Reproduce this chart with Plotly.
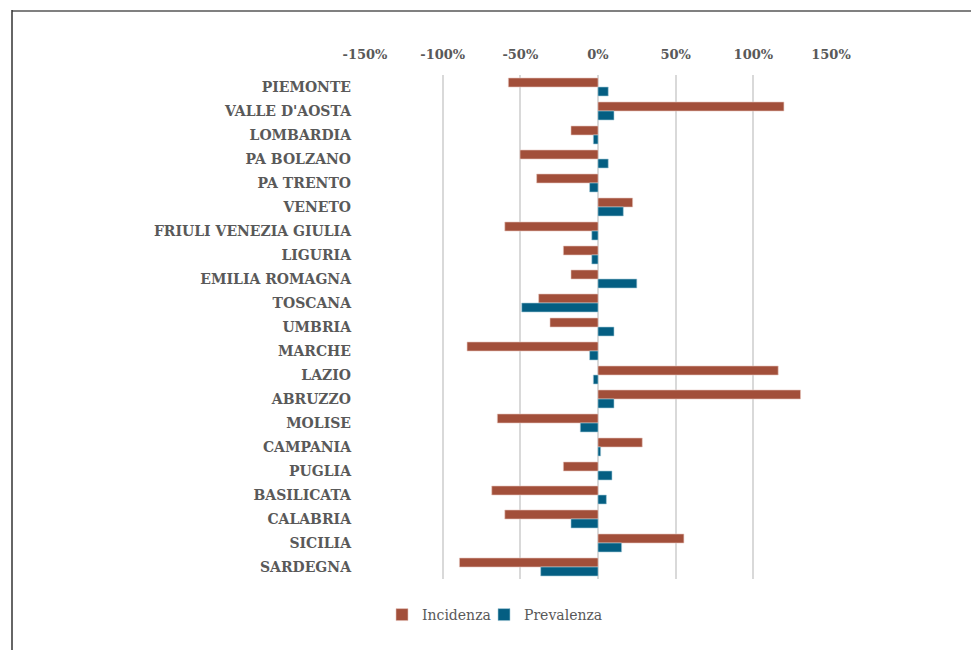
import plotly.graph_objects as go

regions = ["PIEMONTE", "VALLE D'AOSTA", "LOMBARDIA", "PA BOLZANO", "PA TRENTO", "VENETO",
           "FRIULI VENEZIA GIULIA", "LIGURIA", "EMILIA ROMAGNA", "TOSCANA", "UMBRIA", "MARCHE",
           "LAZIO", "ABRUZZO", "MOLISE", "CAMPANIA", "PUGLIA", "BASILICATA", "CALABRIA",
           "SICILIA", "SARDEGNA"]
incidenza = [-0.577, 1.197, -0.174, -0.502, -0.395, 0.223, -0.60, -0.223, -0.174, -0.382,
             -0.309, -0.843, 1.16, 1.304, -0.648, 0.285, -0.223, -0.684, -0.60, 0.553, -0.892]
prevalenza = [0.066, 0.103, -0.03, 0.066, -0.054, 0.163, -0.04, -0.04, 0.25, -0.491,
              0.103, -0.054, -0.03, 0.103, -0.114, 0.017, 0.09, 0.054, -0.174, 0.152, -0.369]
tick_vals = [-1.5, -1.0, -0.5, 0, 0.5, 1.0, 1.5]
tick_text = ["-150%", "-100%", "-50%", "0%", "50%", "100%", "150%"]

FONT = "DejaVu Serif"
GREY = "#595959"

fig = go.Figure()
fig.add_trace(go.Bar(y=regions, x=incidenza, name="Incidenza", orientation="h",
                     marker=dict(color="#A24F3A", line=dict(color="#E8C8C0", width=0.6)),
                     legend="legend", showlegend=True))
fig.add_trace(go.Bar(y=regions, x=prevalenza, name="Prevalenza", orientation="h",
                     marker=dict(color="#045E82", line=dict(color="#A9CCDA", width=0.6)),
                     legend="legend2", showlegend=True))

W, H = 971, 650
L, R, T, B = 365, 140, 75, 71
pw, ph = W - L - R, H - T - B

def px_x(p):
    return (p - L) / pw

def px_y(p):
    return (H - B - p) / ph

leg_common = dict(orientation="h", y=px_y(615), xanchor="left", yanchor="middle",
                  font=dict(family=FONT, size=14, color=GREY), itemwidth=30,
                  bgcolor="rgba(0,0,0,0)", visible=True)

fig.update_layout(
    width=W, height=H,
    margin=dict(l=L, r=R, t=T, b=B),
    paper_bgcolor="white", plot_bgcolor="white",
    showlegend=True,
    barmode="group", bargap=0.25, bargroupgap=0,
    font=dict(family=FONT, color=GREY, size=13),
    xaxis=dict(side="top", range=[-1.5, 1.5], tickvals=tick_vals, ticktext=tick_text,
               showgrid=True, gridcolor="#D9D9D9", gridwidth=2,
               zeroline=True, zerolinecolor="#D9D9D9", zerolinewidth=2,
               tickfont=dict(family=FONT, size=13, color=GREY, weight="bold"),
               ticks="", showline=False, fixedrange=True, ticklabelstandoff=12),
    yaxis=dict(autorange="reversed", showgrid=False, zeroline=False, ticks="",
               tickfont=dict(family=FONT, size=14, color=GREY, weight="bold"),
               ticklabelstandoff=13, showline=False),
    legend=dict(x=px_x(382), **leg_common),
    legend2=dict(x=px_x(484), **leg_common),
    shapes=[
        dict(type="line", xref="paper", yref="paper", x0=px_x(12), x1=px_x(975),
             y0=px_y(11), y1=px_y(11), line=dict(color="#808080", width=2)),
        dict(type="line", xref="paper", yref="paper", x0=px_x(12), x1=px_x(12),
             y0=px_y(10), y1=px_y(655), line=dict(color="#333333", width=1.5)),
    ],
)

fig.write_html("out.html")
